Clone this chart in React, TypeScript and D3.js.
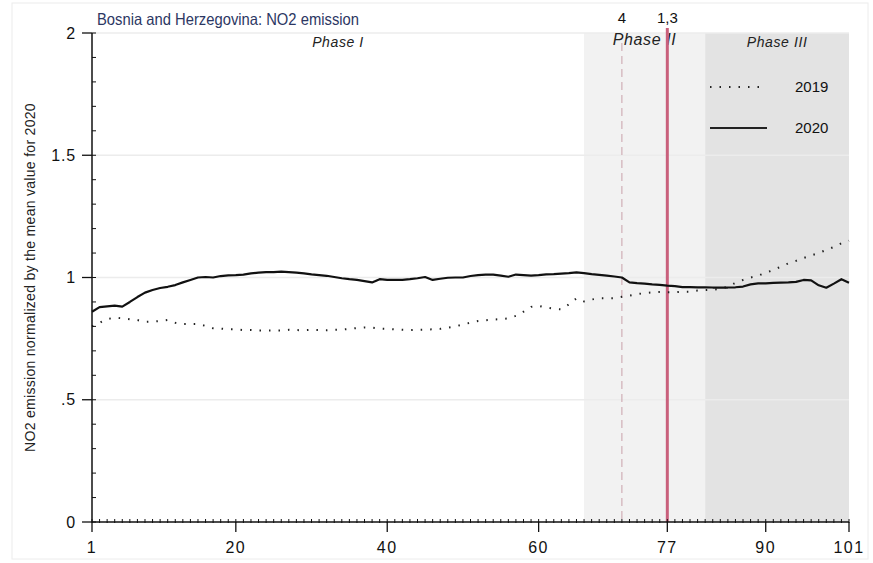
import * as d3 from "d3";

// NO2 emission normalized by the 2020 mean, day index 1..101
const series2020 = [
  0.86, 0.879, 0.882, 0.885, 0.881, 0.9, 0.92, 0.938, 0.949, 0.957,
  0.962, 0.969, 0.98, 0.99, 1.0, 1.002, 1.0, 1.006, 1.009, 1.01,
  1.012, 1.017, 1.02, 1.022, 1.022, 1.024, 1.022, 1.02, 1.017, 1.013,
  1.01, 1.007, 1.002, 0.997, 0.993, 0.99, 0.985, 0.98, 0.993, 0.99,
  0.99, 0.99, 0.993, 0.997, 1.002, 0.99, 0.995, 0.999, 1.0, 1.0,
  1.006, 1.01, 1.012, 1.012, 1.008, 1.003, 1.012, 1.01, 1.008, 1.01,
  1.013, 1.014, 1.016, 1.018, 1.021, 1.018, 1.014, 1.011, 1.008, 1.004,
  1.0, 0.98, 0.977, 0.975, 0.972, 0.97, 0.967, 0.965, 0.961, 0.961,
  0.96, 0.96, 0.959, 0.959, 0.959, 0.96, 0.963, 0.972, 0.976, 0.976,
  0.978, 0.979, 0.98, 0.982, 0.99, 0.988, 0.968, 0.958, 0.975, 0.993,
  0.979,
];

const series2019 = [
  0.8, 0.815, 0.83, 0.836, 0.833, 0.829, 0.826, 0.819, 0.82, 0.822,
  0.826, 0.815, 0.81, 0.81, 0.81, 0.802, 0.792, 0.791, 0.788, 0.788,
  0.785, 0.785, 0.783, 0.783, 0.783, 0.783, 0.786, 0.785, 0.784, 0.786,
  0.785, 0.784, 0.786, 0.787, 0.79, 0.793, 0.796, 0.795, 0.791, 0.79,
  0.788, 0.786, 0.785, 0.786, 0.787, 0.788, 0.79, 0.795, 0.8, 0.808,
  0.815, 0.822, 0.825, 0.828, 0.83, 0.833, 0.843, 0.86, 0.88, 0.884,
  0.877, 0.872, 0.87, 0.89, 0.915, 0.902, 0.91, 0.915, 0.915, 0.915,
  0.921, 0.926, 0.932, 0.936, 0.939, 0.941, 0.94, 0.94, 0.942, 0.942,
  0.947, 0.949, 0.95, 0.953, 0.963, 0.978, 0.99, 1.0, 1.007, 1.02,
  1.03, 1.045, 1.058, 1.068, 1.08, 1.09, 1.1, 1.113, 1.125, 1.14,
  1.15,
];

const xTicks = [1, 20, 40, 60, 77, 90, 101];
const yTicks = [0, 0.5, 1, 1.5, 2];
const yTickLabels = ["0", ".5", "1", "1.5", "2"];

const phaseLabels = ["Phase I", "Phase II", "Phase III"];
const phaseStarts = [1, 66, 82];
const phaseEnds = [66, 82, 101];
const phaseFills = ["none", "#f2f2f2", "#e3e3e3"];

const eventDays = [71, 77];
const eventLabels = ["4", "1,3"];

const legendNames = ["2019", "2020"];

const width = 873;
const height = 563;
const margin = { top: 33, right: 24, bottom: 41, left: 92 };
const font = "Arial, 'Liberation Sans', sans-serif";

export default function App() {
  const x = d3.scaleLinear().domain([1, 101]).range([margin.left, width - margin.right]);
  const y = d3.scaleLinear().domain([0, 2]).range([height - margin.bottom, margin.top]);

  const line = d3
    .line<number>()
    .x((_, i) => x(i + 1))
    .y((d) => y(d));

  const minorX = d3.range(1, 102);
  const minorY = d3.range(0, 2.001, 0.1);
  const y0 = y(0);
  const yTop = y(2);

  return (
    <svg
      width={width}
      height={height}
      style={{ position: "absolute", left: 0, top: 0, background: "#fff" }}
      fontFamily={font}
    >
      <rect x={12} y={3} width={856} height={556} fill="none" stroke="#ececec" />

      {/* phase shading */}
      {phaseLabels.map((p, i) =>
        phaseFills[i] === "none" ? null : (
          <rect
            key={p}
            x={x(phaseStarts[i])}
            y={yTop}
            width={x(phaseEnds[i]) - x(phaseStarts[i])}
            height={y0 - yTop}
            fill={phaseFills[i]}
          />
        )
      )}

      {/* grid */}
      {yTicks.slice(1).map((t) => (
        <line key={t} x1={x(1)} x2={x(101)} y1={y(t)} y2={y(t)} stroke="#ececec" strokeWidth={1.5} />
      ))}

      {/* phase labels */}
      {phaseLabels.map((p, i) => (
        <text
          key={p}
          x={x((phaseStarts[i] + phaseEnds[i]) / 2)}
          y={i === 1 ? 45 : 47}
          textAnchor="middle"
          fontStyle="italic"
          fontSize={i === 1 ? 16 : 14}
          letterSpacing={0.6}
          fill="#222"
        >
          {p}
        </text>
      ))}

      {/* event lines */}
      <line
        x1={x(eventDays[0])}
        x2={x(eventDays[0])}
        y1={43}
        y2={y0}
        stroke="#c9a2aa"
        strokeWidth={1}
        strokeDasharray="8,5"
      />
      <line x1={x(eventDays[1])} x2={x(eventDays[1])} y1={28} y2={y0} stroke="#c9607c" strokeWidth={3} />
      {eventDays.map((d, i) => (
        <text key={d} x={x(d)} y={23} textAnchor="middle" fontSize={15} fill="#111">
          {eventLabels[i]}
        </text>
      ))}

      {/* series */}
      <path
        d={line(series2019) ?? ""}
        fill="none"
        stroke="#222"
        strokeWidth={2}
        strokeDasharray="1.5,8"
      />
      <path d={line(series2020) ?? ""} fill="none" stroke="#111" strokeWidth={2.2} strokeLinejoin="round" />

      {/* y axis */}
      <line x1={x(1)} x2={x(1)} y1={yTop} y2={y0} stroke="#111" strokeWidth={1.5} />
      {minorY.map((t) => (
        <line key={t} x1={x(1)} x2={x(1) + 4} y1={y(t)} y2={y(t)} stroke="#111" />
      ))}
      {yTicks.map((t, i) => (
        <g key={t}>
          <line x1={x(1) - 10} x2={x(1)} y1={y(t)} y2={y(t)} stroke="#111" strokeWidth={1.3} />
          <text x={76} y={y(t)} dy="0.35em" textAnchor="end" fontSize={16} letterSpacing={0.8} fill="#111">
            {yTickLabels[i]}
          </text>
        </g>
      ))}

      {/* x axis */}
      <line x1={x(1)} x2={x(101)} y1={y0} y2={y0} stroke="#111" strokeWidth={1.5} />
      {minorX.map((d) => (
        <line key={d} x1={x(d)} x2={x(d)} y1={y0 - 3} y2={y0 + 1} stroke="#111" />
      ))}
      {xTicks.map((d) => (
        <g key={d}>
          <line x1={x(d)} x2={x(d)} y1={y0} y2={y0 + 10} stroke="#111" strokeWidth={1.3} />
          <text x={x(d)} y={y0 + 31} textAnchor="middle" fontSize={16} letterSpacing={1.5} fill="#111">
            {d}
          </text>
        </g>
      ))}

      {/* axis title */}
      <text
        transform={`translate(35,${(y0 + yTop) / 2}) rotate(-90)`}
        textAnchor="middle"
        fontSize={14}
        letterSpacing={0.3}
        fill="#222"
      >
        NO2 emission normalized by the mean value for 2020
      </text>

      {/* title */}
      <text x={97} y={25} fontSize={16.5} textLength={262} lengthAdjust="spacingAndGlyphs" fill="#2c3763">
        Bosnia and Herzegovina: NO2 emission
      </text>

      {/* legend */}
      {legendNames.map((n, i) => {
        const ly = 87 + i * 41;
        return (
          <g key={n}>
            <line
              x1={710}
              x2={767}
              y1={ly}
              y2={ly}
              stroke="#222"
              strokeWidth={2.2}
              strokeDasharray={i === 0 ? "1.5,8" : undefined}
            />
            <text x={795} y={ly} dy="0.35em" fontSize={15} fill="#111">
              {n}
            </text>
          </g>
        );
      })}
    </svg>
  );
}
